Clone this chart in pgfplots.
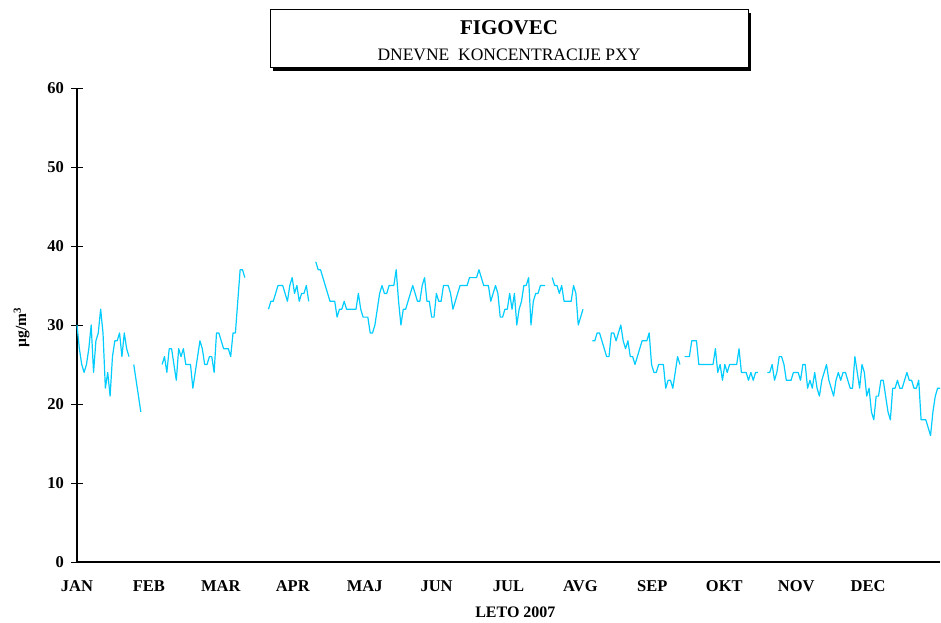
\documentclass[border=0pt]{standalone}
\usepackage{fontspec}
\setmainfont{Liberation Serif}
\usepackage{pgfplots}
\pgfplotsset{compat=1.18}
\definecolor{lineblue}{RGB}{0,204,255}
\pgfplotstableread{
x y
0 30
1 27
2 25
3 24
4 25
5 27
6 30
7 24
8 28
9 29
10 32
11 29
12 22
13 24
14 21
15 26
16 28
17 28
18 29
19 26
20 29
21 27
22 26
23 nan
24 25
25 23
26 21
27 19
28 nan
36 25
37 26
38 24
39 27
40 27
41 25
42 23
43 27
44 26
45 27
46 25
47 25
48 25
49 22
50 24
51 26
52 28
53 27
54 25
55 25
56 26
57 26
58 24
59 29
60 29
61 28
62 27
63 27
64 27
65 26
66 29
67 29
68 33
69 37
70 37
71 36
72 nan
81 32
82 33
83 33
84 34
85 35
86 35
87 35
88 34
89 33
90 35
91 36
92 34
93 35
94 33
95 34
96 34
97 35
98 33
99 nan
101 38
102 37
103 37
104 36
105 35
106 34
107 33
108 33
109 33
110 31
111 32
112 32
113 33
114 32
115 32
116 32
117 32
118 32
119 34
120 32
121 31
122 31
123 31
124 29
125 29
126 30
127 32
128 34
129 35
130 34
131 34
132 35
133 35
134 35
135 37
136 33
137 30
138 32
139 32
140 33
141 34
142 35
143 34
144 33
145 33
146 35
147 36
148 33
149 33
150 31
151 31
152 34
153 33
154 33
155 35
156 35
157 35
158 34
159 32
160 33
161 34
162 35
163 35
164 35
165 35
166 36
167 36
168 36
169 36
170 37
171 36
172 35
173 35
174 35
175 33
176 34
177 35
178 34
179 31
180 31
181 32
182 32
183 34
184 32
185 34
186 30
187 32
188 33
189 35
190 35
191 36
192 30
193 33
194 34
195 34
196 35
197 35
198 35
199 nan
201 36
202 35
203 35
204 34
205 35
206 33
207 33
208 33
209 33
210 35
211 34
212 30
213 31
214 32
215 nan
218 28
219 28
220 29
221 29
222 28
223 27
224 26
225 26
226 29
227 29
228 28
229 29
230 30
231 28
232 27
233 28
234 26
235 26
236 25
237 26
238 27
239 28
240 28
241 28
242 29
243 25
244 24
245 24
246 25
247 25
248 25
249 22
250 23
251 23
252 22
253 24
254 26
255 25
256 nan
257 26
258 26
259 26
260 28
261 28
262 28
263 25
264 25
265 25
266 25
267 25
268 25
269 25
270 27
271 24
272 25
273 23
274 25
275 24
276 25
277 25
278 25
279 25
280 27
281 24
282 24
283 24
284 23
285 24
286 23
287 24
288 24
289 nan
292 24
293 24
294 25
295 23
296 24
297 26
298 26
299 25
300 23
301 23
302 23
303 24
304 24
305 24
306 23
307 25
308 25
309 22
310 23
311 22
312 24
313 22
314 21
315 23
316 24
317 25
318 23
319 22
320 21
321 23
322 24
323 23
324 24
325 24
326 23
327 22
328 22
329 26
330 24
331 22
332 25
333 24
334 21
335 22
336 19
337 18
338 21
339 21
340 23
341 23
342 21
343 19
344 18
345 22
346 22
347 23
348 22
349 22
350 23
351 24
352 23
353 23
354 22
355 22
356 23
357 18
358 18
359 18
360 17
361 16
362 19
363 21
364 22
365 22
}\pxydata
\begin{document}
\begin{tikzpicture}[x=1pt,y=1pt]
% title box
\fill[black] (273,551) rectangle (751,609);
\draw[fill=white,line width=1pt] (270,554) rectangle (748,612);
\node[font=\bfseries\fontsize{21}{21}\selectfont] at (509,594) {FIGOVEC};
\node[font=\fontsize{17.5}{17.5}\selectfont] at (509,567) {DNEVNE\ \ KONCENTRACIJE PXY};
\begin{axis}[
  at={(77pt,60pt)}, anchor=south west,
  scale only axis, width=863pt, height=474pt,
  xmin=0, xmax=365, ymin=0, ymax=60,
  axis lines*=left,
  axis line style={black, line width=1.5pt},
  unbounded coords=jump,
  ytick={0,10,...,60},
  xtick={0,30.4167,60.8333,91.25,121.6667,152.0833,182.5,212.9167,243.3333,273.75,304.1667,334.5833},
  xticklabels={JAN,FEB,MAR,APR,MAJ,JUN,JUL,AVG,SEP,OKT,NOV,DEC},
  x tick style={draw=none},
  y tick style={black, line width=0.8pt},
  major tick length=11pt,
  tick align=center,
  ticklabel style={font=\bfseries\fontsize{16.5}{16.5}\selectfont},
  /pgf/number format/assume math mode=true,
  xticklabel style={yshift=-10pt},
  yticklabel style={xshift=-4pt},
  xlabel={LETO 2007},
  xlabel style={font=\bfseries\fontsize{16}{16}\selectfont, at={(axis description cs:0.508,-0.1055)}, anchor=center},
  ylabel={µg/m\textsuperscript{3}},
  ylabel style={font=\bfseries\fontsize{15.5}{15.5}\selectfont, at={(axis description cs:-0.0643,0.495)}, anchor=center},
  clip=false,
]
\addplot[lineblue, line width=1.2pt, line join=round] table[x=x,y=y] {\pxydata};
\end{axis}
\pgfresetboundingbox
\useasboundingbox (0,0) rectangle (941,622);
\end{tikzpicture}
\end{document}
